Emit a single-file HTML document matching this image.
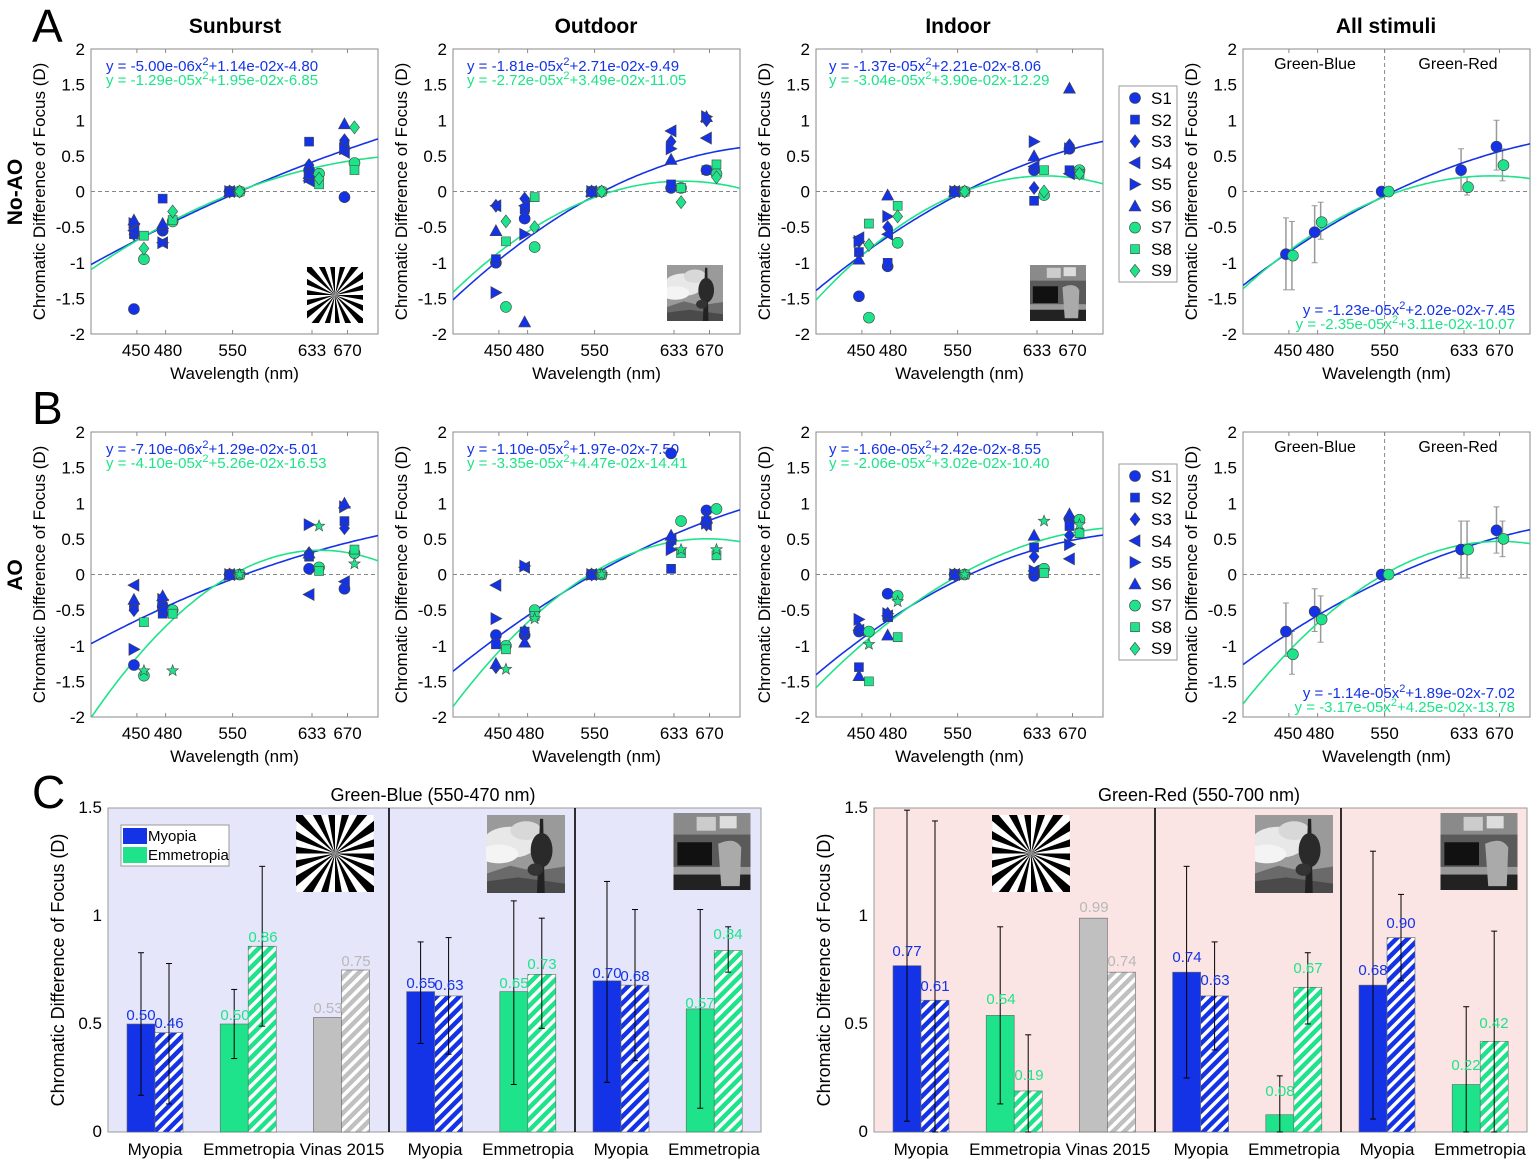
<!DOCTYPE html>
<html><head><meta charset="utf-8"><style>
html,body{margin:0;padding:0;background:#fff}
svg{display:block;font-family:"Liberation Sans",sans-serif}
</style></head><body>
<svg id="s" width="1535" height="1164" viewBox="0 0 1535 1164" xmlns="http://www.w3.org/2000/svg" xmlns:xlink="http://www.w3.org/1999/xlink">
<defs>
<clipPath id="pc"><rect x="0" y="0" width="287" height="285"/></clipPath>
<pattern id="hb" width="8" height="8" patternUnits="userSpaceOnUse" patternTransform="rotate(45)"><rect width="8" height="8" fill="#1432e6"/><rect x="0" y="0" width="3.5" height="8" fill="#fff"/></pattern>
<pattern id="hg" width="8" height="8" patternUnits="userSpaceOnUse" patternTransform="rotate(45)"><rect width="8" height="8" fill="#1fe38a"/><rect x="0" y="0" width="3.5" height="8" fill="#fff"/></pattern>
<pattern id="hy" width="8" height="8" patternUnits="userSpaceOnUse" patternTransform="rotate(45)"><rect width="8" height="8" fill="#c0c0c0"/><rect x="0" y="0" width="3.5" height="8" fill="#fff"/></pattern>
<symbol id="sun" viewBox="0 0 100 100"><rect width="100" height="100" fill="#fff"/><g id="wedges"></g></symbol>
<symbol id="out" viewBox="0 0 100 100">
<rect width="100" height="100" fill="#9a9a9a"/>
<ellipse cx="30" cy="35" rx="35" ry="20" fill="#e8e8e8"/><ellipse cx="15" cy="50" rx="25" ry="12" fill="#f4f4f4"/><ellipse cx="50" cy="20" rx="20" ry="12" fill="#d8d8d8"/>
<path d="M0 75 L30 65 L60 72 L100 66 L100 100 L0 100Z" fill="#6a6a6a"/><path d="M0 85 L40 80 L100 88 L100 100 L0 100Z" fill="#4a4a4a"/>
<path d="M68 5 L72 5 L74 100 L64 100Z" fill="#222"/><ellipse cx="70" cy="45" rx="14" ry="22" fill="#2a2a2a"/><ellipse cx="62" cy="70" rx="10" ry="8" fill="#333"/>
</symbol>
<symbol id="ind" viewBox="0 0 100 100">
<rect width="100" height="100" fill="#5a5a5a"/><rect x="0" y="0" width="100" height="28" fill="#8a8a8a"/><rect x="30" y="5" width="25" height="18" fill="#ccc"/><rect x="60" y="4" width="22" height="16" fill="#ddd"/>
<rect x="5" y="38" width="45" height="30" fill="#111"/><rect x="0" y="70" width="100" height="10" fill="#999"/><rect x="0" y="80" width="100" height="20" fill="#222"/>
<path d="M58 40 Q80 30 88 45 L86 95 L62 95Z" fill="#aaa"/>
</symbol>
<g id="yt" font-size="17" text-anchor="end" fill="#000">
<text x="-6" y="6">2</text><text x="-6" y="41.5">1.5</text><text x="-6" y="77.3">1</text><text x="-6" y="113">0.5</text><text x="-6" y="148.5">0</text><text x="-6" y="184">-0.5</text><text x="-6" y="219.8">-1</text><text x="-6" y="255.5">-1.5</text><text x="-6" y="291">-2</text>
<text transform="translate(-46,142.5) rotate(-90)" text-anchor="middle">Chromatic Difference of Focus (D)</text>
</g>
<g id="xt" font-size="17" text-anchor="middle" fill="#000">
<text x="45" y="307">450</text><text x="77" y="307">480</text><text x="141.6" y="307">550</text><text x="221" y="307">633</text><text x="256.5" y="307">670</text>
<text x="143.5" y="330">Wavelength (nm)</text>
</g>
<g id="frame">
<rect x="0" y="0" width="287" height="285" fill="none" stroke="#8a8a8a" stroke-width="1"/>
<line x1="0" y1="142.5" x2="287" y2="142.5" stroke="#888" stroke-dasharray="4,3"/>
<g stroke="#8a8a8a"><line x1="45.9" y1="0" x2="45.9" y2="4"/><line x1="74.6" y1="0" x2="74.6" y2="4"/><line x1="141.6" y1="0" x2="141.6" y2="4"/><line x1="221" y1="0" x2="221" y2="4"/><line x1="256.5" y1="0" x2="256.5" y2="4"/>
<line x1="45.9" y1="285" x2="45.9" y2="281"/><line x1="74.6" y1="285" x2="74.6" y2="281"/><line x1="141.6" y1="285" x2="141.6" y2="281"/><line x1="221" y1="285" x2="221" y2="281"/><line x1="256.5" y1="285" x2="256.5" y2="281"/></g>
</g>
</defs>
<rect width="1535" height="1164" fill="#fff"/>

<g font-size="46" fill="#000"><text x="32" y="42">A</text><text x="32" y="424">B</text><text x="32" y="808">C</text></g>
<g font-size="21" font-weight="bold" text-anchor="middle"><text x="235" y="33">Sunburst</text><text x="596" y="33">Outdoor</text><text x="958" y="33">Indoor</text><text x="1386" y="33">All stimuli</text></g>
<g font-size="21" font-weight="bold" text-anchor="middle"><text transform="translate(22,192) rotate(-90)">No-AO</text><text transform="translate(22,575) rotate(-90)">AO</text></g>

<g id="p0" transform="translate(91,49)"><use href="#frame"/><use href="#yt"/><use href="#xt"/><use href="#sun" x="216" y="218" width="56" height="56"/></g>
<g id="p1" transform="translate(453,49)"><use href="#frame"/><use href="#yt"/><use href="#xt"/><use href="#out" x="214" y="216" width="56" height="56"/></g>
<g id="p2" transform="translate(816,49)"><use href="#frame"/><use href="#yt"/><use href="#xt"/><use href="#ind" x="214" y="216" width="56" height="56"/></g>
<g id="p3" transform="translate(1243,49)"><use href="#frame"/><use href="#yt"/><use href="#xt"/><line x1="141.6" y1="0" x2="141.6" y2="285" stroke="#888" stroke-dasharray="4,3"/>
<text x="72" y="20" font-size="16" text-anchor="middle">Green-Blue</text><text x="215" y="20" font-size="16" text-anchor="middle">Green-Red</text></g>
<g id="p4" transform="translate(91,432)"><use href="#frame"/><use href="#yt"/><use href="#xt"/></g>
<g id="p5" transform="translate(453,432)"><use href="#frame"/><use href="#yt"/><use href="#xt"/></g>
<g id="p6" transform="translate(816,432)"><use href="#frame"/><use href="#yt"/><use href="#xt"/></g>
<g id="p7" transform="translate(1243,432)"><use href="#frame"/><use href="#yt"/><use href="#xt"/><line x1="141.6" y1="0" x2="141.6" y2="285" stroke="#888" stroke-dasharray="4,3"/>
<text x="72" y="20" font-size="16" text-anchor="middle">Green-Blue</text><text x="215" y="20" font-size="16" text-anchor="middle">Green-Red</text></g>

<g font-size="15">
<text x="106" y="71" fill="#1432e6">y = -5.00e-06x<tspan dy="-6" font-size="11">2</tspan><tspan dy="6">+1.14e-02x-4.80</tspan></text>
<text x="106" y="85" fill="#1fe38a">y = -1.29e-05x<tspan dy="-6" font-size="11">2</tspan><tspan dy="6">+1.95e-02x-6.85</tspan></text>
<text x="467" y="71" fill="#1432e6">y = -1.81e-05x<tspan dy="-6" font-size="11">2</tspan><tspan dy="6">+2.71e-02x-9.49</tspan></text>
<text x="467" y="85" fill="#1fe38a">y = -2.72e-05x<tspan dy="-6" font-size="11">2</tspan><tspan dy="6">+3.49e-02x-11.05</tspan></text>
<text x="829" y="71" fill="#1432e6">y = -1.37e-05x<tspan dy="-6" font-size="11">2</tspan><tspan dy="6">+2.21e-02x-8.06</tspan></text>
<text x="829" y="85" fill="#1fe38a">y = -3.04e-05x<tspan dy="-6" font-size="11">2</tspan><tspan dy="6">+3.90e-02x-12.29</tspan></text>
<text x="1515" y="315" fill="#1432e6" text-anchor="end">y = -1.23e-05x<tspan dy="-6" font-size="11">2</tspan><tspan dy="6">+2.02e-02x-7.45</tspan></text>
<text x="1515" y="329" fill="#1fe38a" text-anchor="end">y = -2.35e-05x<tspan dy="-6" font-size="11">2</tspan><tspan dy="6">+3.11e-02x-10.07</tspan></text>
<text x="106" y="454" fill="#1432e6">y = -7.10e-06x<tspan dy="-6" font-size="11">2</tspan><tspan dy="6">+1.29e-02x-5.01</tspan></text>
<text x="106" y="468" fill="#1fe38a">y = -4.10e-05x<tspan dy="-6" font-size="11">2</tspan><tspan dy="6">+5.26e-02x-16.53</tspan></text>
<text x="467" y="454" fill="#1432e6">y = -1.10e-05x<tspan dy="-6" font-size="11">2</tspan><tspan dy="6">+1.97e-02x-7.50</tspan></text>
<text x="467" y="468" fill="#1fe38a">y = -3.35e-05x<tspan dy="-6" font-size="11">2</tspan><tspan dy="6">+4.47e-02x-14.41</tspan></text>
<text x="829" y="454" fill="#1432e6">y = -1.60e-05x<tspan dy="-6" font-size="11">2</tspan><tspan dy="6">+2.42e-02x-8.55</tspan></text>
<text x="829" y="468" fill="#1fe38a">y = -2.06e-05x<tspan dy="-6" font-size="11">2</tspan><tspan dy="6">+3.02e-02x-10.40</tspan></text>
<text x="1515" y="698" fill="#1432e6" text-anchor="end">y = -1.14e-05x<tspan dy="-6" font-size="11">2</tspan><tspan dy="6">+1.89e-02x-7.02</tspan></text>
<text x="1515" y="712" fill="#1fe38a" text-anchor="end">y = -3.17e-05x<tspan dy="-6" font-size="11">2</tspan><tspan dy="6">+4.25e-02x-13.78</tspan></text>
</g>

<g id="leg1"><rect x="1119" y="86" width="58" height="196" fill="#fff" stroke="#999"/>
<g font-size="17"><text x="1151" y="104">S1</text><text x="1151" y="126">S2</text><text x="1151" y="147">S3</text><text x="1151" y="169">S4</text><text x="1151" y="190">S5</text><text x="1151" y="212">S6</text><text x="1151" y="233">S7</text><text x="1151" y="255">S8</text><text x="1151" y="276">S9</text></g></g>
<g id="leg2"><rect x="1119" y="464" width="58" height="196" fill="#fff" stroke="#999"/>
<g font-size="17"><text x="1151" y="482">S1</text><text x="1151" y="504">S2</text><text x="1151" y="525">S3</text><text x="1151" y="547">S4</text><text x="1151" y="568">S5</text><text x="1151" y="590">S6</text><text x="1151" y="611">S7</text><text x="1151" y="633">S8</text><text x="1151" y="654">S9</text></g></g>

<g id="bl" transform="translate(108,808)">
<rect x="0" y="0" width="653" height="324" fill="#e6e6fa" stroke="#999"/>
<g font-size="17" text-anchor="end"><text x="-6" y="329">0</text><text x="-6" y="221">0.5</text><text x="-6" y="113">1</text><text x="-6" y="5">1.5</text></g>
<text transform="translate(-44,162) rotate(-90)" font-size="18" text-anchor="middle">Chromatic Difference of Focus (D)</text>
<text x="325" y="-7" font-size="18" text-anchor="middle">Green-Blue (550-470 nm)</text>
<g font-size="17" text-anchor="middle"><text x="47" y="347">Myopia</text><text x="141" y="347">Emmetropia</text><text x="234" y="347">Vinas 2015</text><text x="327" y="347">Myopia</text><text x="420" y="347">Emmetropia</text><text x="513" y="347">Myopia</text><text x="606" y="347">Emmetropia</text></g>
<use href="#sun" x="188" y="7" width="78" height="77"/><use href="#out" x="378" y="7" width="80" height="78"/><use href="#ind" x="564" y="5" width="80" height="77"/>
<g id="barsL"></g>
<rect x="13" y="17" width="108" height="41" fill="#fff" stroke="#999"/>
<rect x="15" y="20" width="24" height="16" fill="#1432e6"/><rect x="15" y="39" width="24" height="16" fill="#1fe38a"/>
<text x="40" y="33" font-size="15">Myopia</text><text x="40" y="52" font-size="15">Emmetropia</text>
</g>
<g id="br" transform="translate(874,808)">
<rect x="0" y="0" width="653" height="324" fill="#fbe4e4" stroke="#999"/>
<g font-size="17" text-anchor="end"><text x="-6" y="329">0</text><text x="-6" y="221">0.5</text><text x="-6" y="113">1</text><text x="-6" y="5">1.5</text></g>
<text transform="translate(-44,162) rotate(-90)" font-size="18" text-anchor="middle">Chromatic Difference of Focus (D)</text>
<text x="325" y="-7" font-size="18" text-anchor="middle">Green-Red (550-700 nm)</text>
<g font-size="17" text-anchor="middle"><text x="47" y="347">Myopia</text><text x="141" y="347">Emmetropia</text><text x="234" y="347">Vinas 2015</text><text x="327" y="347">Myopia</text><text x="420" y="347">Emmetropia</text><text x="513" y="347">Myopia</text><text x="606" y="347">Emmetropia</text></g>
<use href="#sun" x="118" y="7" width="78" height="77"/><use href="#out" x="381" y="7" width="78" height="78"/><use href="#ind" x="566" y="5" width="78" height="77"/>
<g id="barsR"></g>
</g>

<g font-size="15" text-anchor="middle">
<g transform="translate(108,808)">
<text x="33" y="212" fill="#1432e6">0.50</text><text x="61" y="220" fill="#1432e6">0.46</text>
<text x="127" y="212" fill="#1fe38a">0.50</text><text x="155" y="134" fill="#1fe38a">0.86</text>
<text x="220" y="205" fill="#b8b8b8">0.53</text><text x="248" y="158" fill="#b8b8b8">0.75</text>
<text x="313" y="180" fill="#1432e6">0.65</text><text x="341" y="182" fill="#1432e6">0.63</text>
<text x="406" y="180" fill="#1fe38a">0.65</text><text x="434" y="161" fill="#1fe38a">0.73</text>
<text x="499" y="170" fill="#1432e6">0.70</text><text x="527" y="173" fill="#1432e6">0.68</text>
<text x="592" y="200" fill="#1fe38a">0.57</text><text x="620" y="131" fill="#1fe38a">0.84</text>
</g>
<g transform="translate(874,808)">
<text x="33" y="148" fill="#1432e6">0.77</text><text x="61" y="183" fill="#1432e6">0.61</text>
<text x="127" y="196" fill="#1fe38a">0.54</text><text x="155" y="272" fill="#1fe38a">0.19</text>
<text x="220" y="104" fill="#b8b8b8">0.99</text><text x="248" y="158" fill="#b8b8b8">0.74</text>
<text x="313" y="154" fill="#1432e6">0.74</text><text x="341" y="177" fill="#1432e6">0.63</text>
<text x="406" y="288" fill="#1fe38a">0.08</text><text x="434" y="165" fill="#1fe38a">0.67</text>
<text x="499" y="167" fill="#1432e6">0.68</text><text x="527" y="120" fill="#1432e6">0.90</text>
<text x="592" y="262" fill="#1fe38a">0.22</text><text x="620" y="220" fill="#1fe38a">0.42</text>
</g>
</g>
</svg>
<script>
(function(){
var NS="http://www.w3.org/2000/svg";
var B="#1432e6",G="#1fe38a",ST="#444";
function el(t,a,p){var e=document.createElementNS(NS,t);for(var k in a)e.setAttribute(k,a[k]);if(p)p.appendChild(e);return e;}
var w=document.getElementById("wedges"),n=36;
for(var i=0;i<n;i+=2){var a1=i*2*Math.PI/n,a2=(i+1)*2*Math.PI/n;
el("path",{d:"M50 50 L"+(50+100*Math.cos(a1))+" "+(50+100*Math.sin(a1))+" L"+(50+100*Math.cos(a2))+" "+(50+100*Math.sin(a2))+"Z",fill:"#000"},w);}
var X=function(l){return (l-402)*0.957},Y=function(v){return (2-v)*71.25};
function mk(g,s,x,y,c){
 var r=5.5,a={fill:c,stroke:ST,"stroke-width":0.6};
 if(s=="c"){a.cx=x;a.cy=y;a.r=r;el("circle",a,g);return;}
 var d;
 if(s=="s")d="M"+(x-4.5)+" "+(y-4.5)+"h9v9h-9Z";
 else if(s=="d")d="M"+x+" "+(y-6.5)+"L"+(x+5)+" "+y+"L"+x+" "+(y+6.5)+"L"+(x-5)+" "+y+"Z";
 else if(s=="<")d="M"+(x-6)+" "+y+"L"+(x+5)+" "+(y-6)+"L"+(x+5)+" "+(y+6)+"Z";
 else if(s==">")d="M"+(x+6)+" "+y+"L"+(x-5)+" "+(y-6)+"L"+(x-5)+" "+(y+6)+"Z";
 else if(s=="^")d="M"+x+" "+(y-6)+"L"+(x+6)+" "+(y+5)+"L"+(x-6)+" "+(y+5)+"Z";
 else if(s=="*"){d="";for(var k=0;k<10;k++){var rr=k%2?2.5:6,an=-Math.PI/2+k*Math.PI/5;d+=(k?"L":"M")+(x+rr*Math.cos(an))+" "+(y+rr*Math.sin(an));}d+="Z";}
 a.d=d;el("path",a,g);
}
var L=[450,480,550,633,670];
var P=[
 {coef:[[-5.00e-6,1.14e-2,-4.80],[-1.29e-5,1.95e-2,-6.85]],
  b:[[-1.65,-0.6,-0.6,-0.55,-0.45,-0.4],[-0.55,-0.1,-0.5,-0.72,-0.72,-0.45],[0,0,0,0,0,0],[0.3,0.7,0.37,0.15,0.2,0.25],[-0.08,0.65,0.72,0.55,0.6,0.95]],
  g:[[-0.95,-0.62,-0.8],[-0.42,-0.4,-0.28],[0,0,0],[0.25,0.1,0.18],[0.4,0.3,0.9]],gs:"d"},
 {coef:[[-1.81e-5,2.71e-2,-9.49],[-2.72e-5,3.49e-2,-11.05]],
  b:[[-1.0,-0.95,-0.2,-0.2,-1.42,-0.55],[-0.38,-0.25,-0.1,-0.2,-0.6,-1.83],[0,0,0,0,0,0],[0.05,0.1,0.7,0.85,0.6,0.45],[0.3,0.3,1.0,0.75,1.05,1.05]],
  g:[[-1.62,-0.7,-0.42],[-0.78,-0.08,-0.5],[0,0,0],[0.05,0.05,-0.15],[0.25,0.38,0.2]],gs:"d"},
 {coef:[[-1.37e-5,2.21e-2,-8.06],[-3.04e-5,3.90e-2,-12.29]],
  b:[[-1.47,-0.85,-0.7,-0.65,-0.7,-0.95],[-1.05,-1.0,-0.5,-0.6,-0.35,-0.05],[0,0,0,0,0,0],[0.3,-0.13,0.05,0.35,0.7,0.5],[0.6,0.3,0.65,0.25,0.6,1.45]],
  g:[[-1.77,-0.45,-0.75],[-0.72,-0.2,-0.35],[0,0,0],[-0.05,0.3,0],[0.3,0.25,0.25]],gs:"d"},
 {coef:[[-1.23e-5,2.02e-2,-7.45],[-2.35e-5,3.11e-2,-10.07]],all:1,
  bm:[-0.88,-0.57,0,0.3,0.63],gm:[-0.9,-0.43,0,0.06,0.37],
  be:[[-1.38,-0.37],[-1.0,-0.2],null,[0.0,0.6],[0.3,1.0]],ge:[[-1.38,-0.42],[-0.67,-0.15],null,[-0.05,0.2],[0.15,0.6]]},
 {coef:[[-7.10e-6,1.29e-2,-5.01],[-4.10e-5,5.26e-2,-16.53]],
  b:[[-1.27,-0.45,-0.5,-0.15,-1.05,-0.35],[-0.45,-0.55,-0.4,-0.5,-0.35,-0.3],[0,0,0,0,0,0],[0.08,0.25,0.3,-0.28,0.7,0.3],[-0.2,0.75,0.65,-0.1,0.95,1.0]],
  g:[[-1.42,-0.67,-1.35],[-0.5,-0.55,-1.35],[0,0,0],[0.1,0.05,0.68],[0.3,0.35,0.15]],gs:"*"},
 {coef:[[-1.10e-5,1.97e-2,-7.50],[-3.35e-5,4.47e-2,-14.41]],
  b:[[-0.85,-0.98,-1.3,-0.15,-0.62,-1.25],[-0.85,-0.8,-0.8,0.1,0.12,-0.95],[0,0,0,0,0,0],[1.7,0.08,0.45,0.5,0.35,0.55],[0.9,0.75,0.7,0.7,0.72,0.8]],
  g:[[-1.0,-1.05,-1.33],[-0.5,-0.58,-0.62],[0,0,0],[0.75,0.3,0.35],[0.92,0.27,0.35]],gs:"*"},
 {coef:[[-1.60e-5,2.42e-2,-8.55],[-2.06e-5,3.02e-2,-10.40]],
  b:[[-0.8,-1.3,-0.75,-0.78,-0.63,-1.42],[-0.27,-0.6,-0.55,-0.58,-0.55,-0.85],[0,0,0,0,0,0],[-0.02,0.38,0.25,0.05,0.05,0.55],[0.78,0.68,0.55,0.22,0.42,0.85]],
  g:[[-0.8,-1.5,-0.98],[-0.3,-0.88,-0.38],[0,0,0],[0.08,0.02,0.75],[0.77,0.58,0.7]],gs:"*"},
 {coef:[[-1.14e-5,1.89e-2,-7.02],[-3.17e-5,4.25e-2,-13.78]],all:1,
  bm:[-0.8,-0.52,0,0.35,0.62],gm:[-1.12,-0.63,0,0.35,0.5],
  be:[[-1.15,-0.4],[-0.8,-0.2],null,[-0.05,0.75],[0.3,0.95]],ge:[[-1.4,-0.8],[-0.95,-0.3],null,[-0.05,0.75],[0.25,0.75]]}
];
var BS=["c","s","d","<",">","^"];
P.forEach(function(p,i){
 var g=document.getElementById("p"+i);
 var cg=el("g",{"clip-path":"url(#pc)"},g);
 if(p.all){
  for(var j=0;j<5;j++){
   [[p.be,-3],[p.ge,3]].forEach(function(q){var e=q[0][j];if(!e)return;var x=X(L[j])+q[1];
    el("line",{x1:x,x2:x,y1:Y(e[0]),y2:Y(e[1]),stroke:"#999","stroke-width":1.5},cg);
    el("line",{x1:x-3,x2:x+3,y1:Y(e[0]),y2:Y(e[0]),stroke:"#999"},cg);el("line",{x1:x-3,x2:x+3,y1:Y(e[1]),y2:Y(e[1]),stroke:"#999"},cg);});
  }
 }
 p.coef.forEach(function(c,k){var d="";for(var l=402;l<=702;l+=3){var v=c[0]*l*l+c[1]*l+c[2];d+=(l==402?"M":"L")+X(l).toFixed(1)+" "+Y(v).toFixed(1);}
  el("path",{d:d,fill:"none",stroke:k?G:B,"stroke-width":1.6},cg);});
 if(p.all){
  for(var j=0;j<5;j++){mk(cg,"c",X(L[j])-3,Y(p.bm[j]),B);}
  for(var j=0;j<5;j++){mk(cg,"c",X(L[j])+4,Y(p.gm[j]),G);}
 } else {
  for(var j=0;j<5;j++){p.b[j].forEach(function(v,k){mk(cg,BS[k],X(L[j])-3,Y(v),B);});}
  var GS=["c","s",p.gs];
  for(var j=0;j<5;j++){p.g[j].forEach(function(v,k){mk(cg,GS[k],X(L[j])+7,Y(v),G);});}
 }
});
var sh=["c","s","d","<",">","^","c","s","d"],sv=document.getElementById("s");
[98,476].forEach(function(y0){for(var k=0;k<9;k++)mk(sv,sh[k],1135,y0+k*21.6,k<6?B:G);});
var cols=["b","g","y","b","g","b","g"],fill={b:B,g:G,y:"#c0c0c0"},hat={b:"url(#hb)",g:"url(#hg)",y:"url(#hy)"};
var data={
 barsL:{v:[[0.50,0.46],[0.50,0.86],[0.53,0.75],[0.65,0.63],[0.65,0.73],[0.70,0.68],[0.57,0.84]],
  e:[[[0.17,0.83],[0.13,0.78]],[[0.34,0.66],[0.49,1.23]],null,[[0.41,0.88],[0.36,0.90]],[[0.22,1.07],[0.48,0.99]],[[0.23,1.16],[0.33,1.03]],[[0.11,1.03],[0.74,0.95]]]},
 barsR:{v:[[0.77,0.61],[0.54,0.19],[0.99,0.74],[0.74,0.63],[0.08,0.67],[0.68,0.90],[0.22,0.42]],
  e:[[[0.05,1.49],[0.0,1.44]],[[0.13,0.95],[0.0,0.45]],null,[[0.25,1.23],[0.38,0.88]],[[0.0,0.26],[0.5,0.83]],[[0.06,1.30],[0.7,1.10]],[[0.0,0.58],[0.0,0.93]]]}
};
var YB=function(v){return 324-v*216};
["barsL","barsR"].forEach(function(id){
 var g=document.getElementById(id),D=data[id];
 for(var i=0;i<7;i++){var c=47+93.2*i,t=cols[i];
  var v=D.v[i];
  el("rect",{x:c-28,y:YB(v[0]),width:28,height:v[0]*216,fill:fill[t],stroke:"#666","stroke-width":0.6},g);
  el("rect",{x:c,y:YB(v[1]),width:28,height:v[1]*216,fill:hat[t],stroke:"#666","stroke-width":0.6},g);
 }
 for(var i=0;i<7;i++){var c=47+93.2*i,e=D.e[i];if(!e)continue;
  [[c-14,e[0]],[c+14,e[1]]].forEach(function(q){var x=q[0],a=YB(q[1][0]),b=YB(q[1][1]);
   el("line",{x1:x,x2:x,y1:a,y2:b,stroke:"#000","stroke-width":1},g);
   el("line",{x1:x-3,x2:x+3,y1:a,y2:a,stroke:"#000"},g);el("line",{x1:x-3,x2:x+3,y1:b,y2:b,stroke:"#000"},g);});
 }
 el("line",{x1:281,x2:281,y1:0,y2:324,stroke:"#000","stroke-width":1.6},g);
 el("line",{x1:467,x2:467,y1:0,y2:324,stroke:"#000","stroke-width":1.6},g);
});
})();
</script>
</body></html>
